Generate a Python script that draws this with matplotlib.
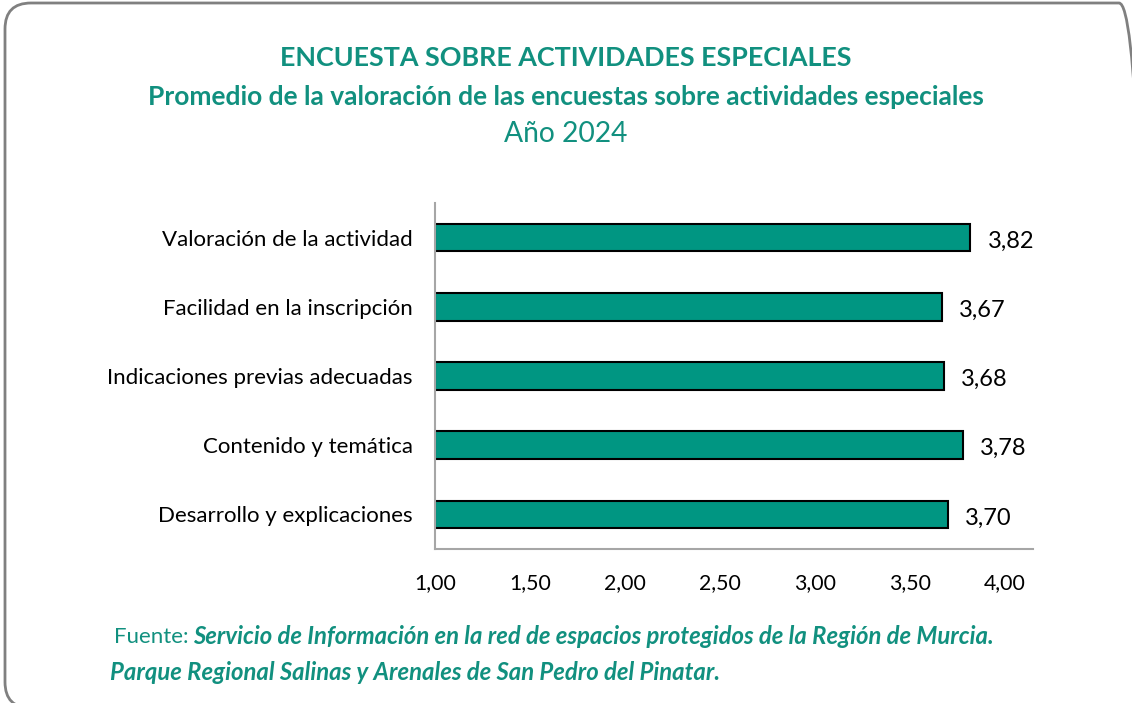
import matplotlib.pyplot as plt
from matplotlib.patches import FancyBboxPatch

categorias = ["Valoración de la actividad",
              "Facilidad en la inscripción",
              "Indicaciones previas adecuadas",
              "Contenido y temática",
              "Desarrollo y explicaciones"]
valores = [3.82, 3.67, 3.68, 3.78, 3.70]
ticks = [1.0, 1.5, 2.0, 2.5, 3.0, 3.5, 4.0]

verde = '#009682'
titulo_col = '#11907f'
plt.rcParams['font.family'] = ['Lato', 'DejaVu Sans']

W, H = 1132, 703
fig = plt.figure(figsize=(W/100, H/100), dpi=100)

# marco redondeado en pixeles (se sale por la derecha y abajo)
fondo = fig.add_axes([0, 0, 1, 1])
fondo.set_xlim(0, W)
fondo.set_ylim(0, H)
fondo.axis('off')
fondo.add_patch(FancyBboxPatch((5, H - 708), 1140, 705,
                               boxstyle="round,pad=0,rounding_size=26",
                               fill=False, edgecolor='#808080', linewidth=2))

fig.text(0.5, 1 - 58/H, "ENCUESTA SOBRE ACTIVIDADES ESPECIALES", ha='center', va='center',
         fontsize=19.4, fontweight='bold', color=titulo_col)
fig.text(0.5, 1 - 97/H, "Promedio de la valoración de las encuestas sobre actividades especiales",
         ha='center', va='center', fontsize=19, fontweight='bold', color=titulo_col)
fig.text(0.5, 1 - 134/H, "Año 2024", ha='center', va='center', fontsize=20.3, color=titulo_col)

ax = fig.add_axes([435/W, 1 - 549/H, (1033 - 435)/W, (549 - 203)/H])
y = list(range(len(categorias)))
ax.barh(y, [v - 1 for v in valores], left=1, height=0.4, color=verde,
        edgecolor='black', linewidth=1.5)
for yi, v in zip(y, valores):
    ax.text(v + 0.09, yi + 0.05, f"{v:.2f}".replace('.', ','), va='center', ha='left',
            fontsize=17, color='black')

ax.set_ylim(len(categorias) - 0.5, -0.5)
ax.set_xlim(1, 4.15)
ax.set_yticks(y)
ax.set_yticklabels(categorias, fontsize=16)
ax.set_xticks(ticks)
ax.set_xticklabels([f"{t:.2f}".replace('.', ',') for t in ticks], fontsize=15.3)
ax.tick_params(axis='both', length=0)
ax.tick_params(axis='y', pad=16)
ax.tick_params(axis='x', pad=17)
for s in ['top', 'right']:
    ax.spines[s].set_visible(False)
for s in ['left', 'bottom']:
    ax.spines[s].set_color('#a6a6a6')
    ax.spines[s].set_linewidth(1.5)

fig.text(114/W, 1 - 637/H, "Fuente:", ha='left', va='center', fontsize=16, color=titulo_col)
fig.text(193/W, 1 - 637/H,
         "Servicio de Información en la red de espacios protegidos de la Región de Murcia.",
         ha='left', va='center', fontsize=17.2, fontweight='bold', style='italic', color=titulo_col)
fig.text(110/W, 1 - 673/H, "Parque Regional Salinas y Arenales de San Pedro del Pinatar.",
         ha='left', va='center', fontsize=17.2, fontweight='bold', style='italic', color=titulo_col)

fig.savefig('out.png', dpi=100)
